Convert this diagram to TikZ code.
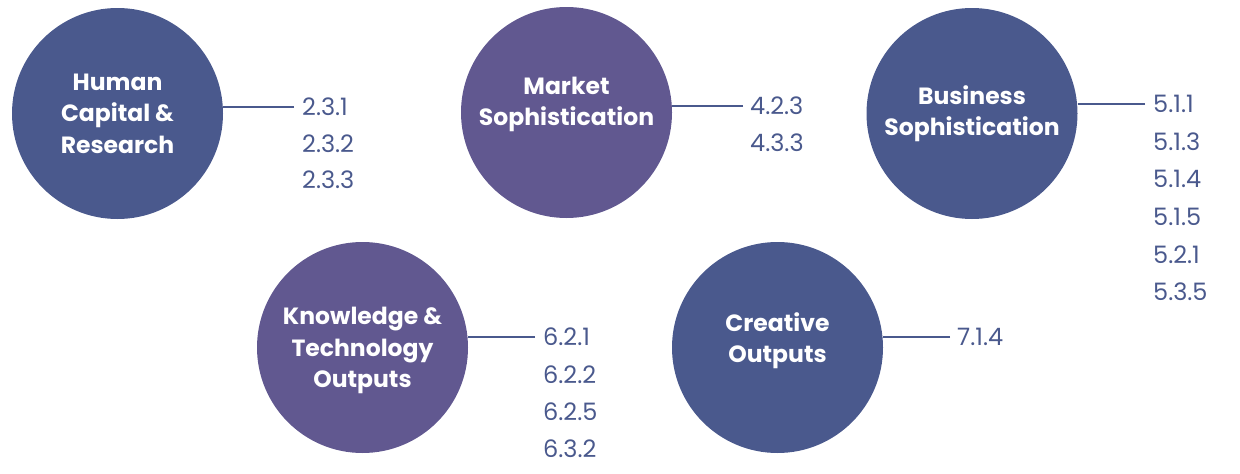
\documentclass[tikz,border=0pt]{standalone}
\usepackage{fontspec}
\setmainfont{Poppins}
\usetikzlibrary{positioning,calc}
\definecolor{pillarblue}{HTML}{4A598D}
\definecolor{pillarpurple}{HTML}{615890}

\begin{document}
\begin{tikzpicture}[
  x=1pt, y=-1pt,
  pillar/.style={circle, fill=#1, minimum size=211pt, inner sep=0pt},
  pillartext/.style={text=white, align=center, inner sep=0pt,
                     font=\fontsize{23.5}{31.5}\selectfont\bfseries},
  code/.style={text=pillarblue, anchor=west, inner sep=0pt,
               font=\fontsize{24}{28}\selectfont},
  link/.style={draw=pillarblue, line width=2.4pt}
]
\useasboundingbox (0,0) rectangle (1240,474);

% the five pillars
\node[pillar=pillarblue]   (hc) at (117.5,113.5) {};
\node[pillar=pillarpurple] (ms) at (566.5,112.5) {};
\node[pillar=pillarblue]   (bs) at (972,113.5) {};
\node[pillar=pillarpurple] (kt) at (362.5,347.5) {};
\node[pillar=pillarblue]   (co) at (777.5,347.5) {};

\node[pillartext] (hct) at (hc) {Human\\Capital \&\\Research};
\node[pillartext] (mst) at ($(ms)+(0,-8)$) {Market\\Sophistication};
\node[pillartext] (bst) at (bs) {Business\\Sophistication};
\node[pillartext] (ktt) at ($(kt)+(0,3)$) {Knowledge \&\\Technology\\Outputs};
\node[pillartext] (cot) at ($(co)+(0,-7)$) {Creative\\Outputs};

% indicator codes next to each pillar
\foreach \c [count=\i from 0] in {2.3.1,2.3.2,2.3.3}
  \node[code] (hc\i) at (302,107+36.5*\i) {\c};
\foreach \c [count=\i from 0] in {4.2.3,4.3.3}
  \node[code] (ms\i) at (750,106+36.5*\i) {\c};
\foreach \c [count=\i from 0] in {5.1.1,5.1.3,5.1.4,5.1.5,5.2.1,5.3.5}
  \node[code] (bs\i) at (1153,104+37.6*\i) {\c};
\foreach \c [count=\i from 0] in {6.2.1,6.2.2,6.2.5,6.3.2}
  \node[code] (kt\i) at (543,337+37.3*\i) {\c};
\node[code] (co0) at (957,337) {7.1.4};

\draw[link] ([xshift=-8pt]hc0.west) -- (hc0.west -| hc.east);
\draw[link] ([xshift=-7pt]ms0.west) -- (ms0.west -| ms.east);
\draw[link] ([xshift=-8pt]bs0.west) -- (bs0.west -| bs.east);
\draw[link] ([xshift=-8pt]kt0.west) -- (kt0.west -| kt.east);
\draw[link] ([xshift=-7pt]co0.west) -- (co0.west -| co.east);
\end{tikzpicture}
\end{document}
